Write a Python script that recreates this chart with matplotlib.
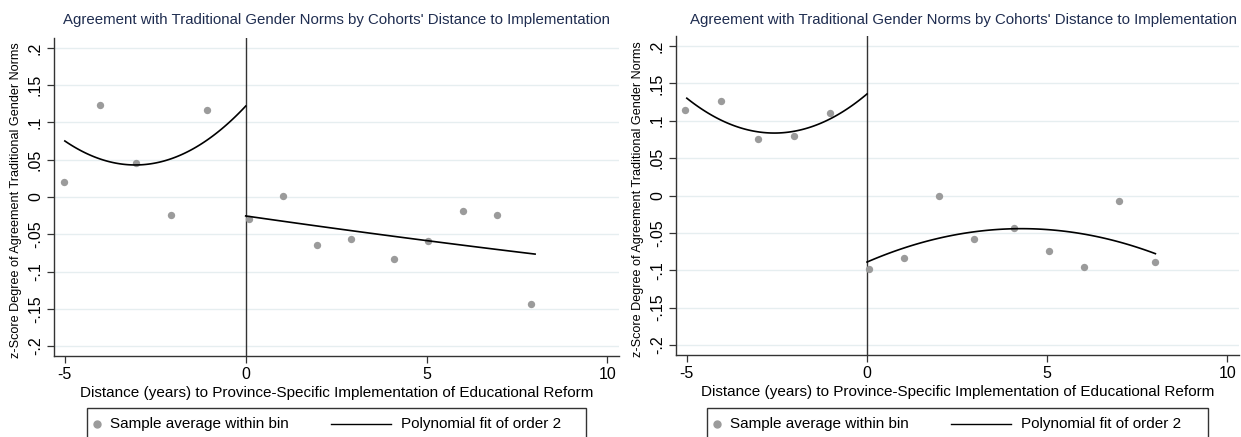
import numpy as np
import matplotlib
matplotlib.use('Agg')
import matplotlib.pyplot as plt
from matplotlib.lines import Line2D
from matplotlib.patches import Rectangle

plt.rcParams['font.family'] = ['Liberation Sans', 'DejaVu Sans']

# bin averages
pre_x_a = [-5.02, -4.03, -3.03, -2.06, -1.07]
pre_y_a = [0.020, 0.123, 0.045, -0.024, 0.117]
post_x_a = [0.1, 1.03, 1.98, 2.92, 4.1, 5.04, 6.0, 6.95, 7.9]
post_y_a = [-0.029, 0.001, -0.064, -0.057, -0.083, -0.059, -0.019, -0.024, -0.1435]

pre_x_b = [-5.04, -4.04, -3.02, -2.02, -1.02]
pre_y_b = [0.114, 0.126, 0.075, 0.079, 0.110]
post_x_b = [0.06, 1.03, 2.0, 2.98, 4.08, 5.06, 6.03, 7.0, 7.99]
post_y_b = [-0.099, -0.083, -0.001, -0.058, -0.044, -0.074, -0.096, -0.007, -0.089]

# points
fit_pre_x = [-5, -4, -3, -2, -1, 0]
fit_pre_a = [0.075, 0.051, 0.043, 0.052, 0.079, 0.122]
fit_pre_b = [0.130, 0.100, 0.085, 0.086, 0.103, 0.136]
fit_post_x = [0, 2, 4, 6, 8]
fit_post_a = [-0.025, -0.040, -0.052, -0.064, -0.077]
fit_post_b = [-0.089, -0.057, -0.045, -0.051, -0.078]

yticks = [0.2, 0.15, 0.1, 0.05, 0, -0.05, -0.1, -0.15, -0.2]
ytick_labels = ['.2', '.15', '.1', '.05', '0', '-.05', '-.1', '-.15', '-.2']
xticks = [-5, 0, 5, 10]

title = "Agreement with Traditional Gender Norms by Cohorts' Distance to Implementation"
xlab = 'Distance (years) to Province-Specific Implementation of Educational Reform'
ylab = 'z-Score Degree of Agreement Traditional Gender Norms'

W, H = 1241, 437
fig = plt.figure(figsize=(W / 100, H / 100), dpi=100)


def smooth_fit(xs, ys):
    # quadratic through the points
    c = np.polyfit(xs, ys, 2)
    xx = np.linspace(xs[0], xs[-1], 100)
    return xx, np.polyval(c, xx)


def panel(rect, px, py, qx, qy, fpa, fpo, title_x, leg_x0, leg_x1):
    ax = fig.add_axes(rect)
    ax.set_xlim(-5.30, 10.32)
    ax.set_ylim(-0.2134, 0.2134)
    for s in ['top', 'right']:
        ax.spines[s].set_visible(False)
    for s in ['left', 'bottom']:
        ax.spines[s].set_color('#333333')
        ax.spines[s].set_linewidth(1.0)
    ax.set_yticks(yticks)
    ax.set_yticklabels(ytick_labels, rotation=90, va='center', fontsize=11.5)
    ax.set_xticks(xticks)
    ax.set_xticklabels([str(t) for t in xticks], fontsize=11.5)
    ax.tick_params(length=5, width=0.9, color='#333333', pad=3)
    ax.grid(axis='y', color='#e6eef0', linewidth=1.0)
    ax.set_axisbelow(True)

    ax.axvline(0, color='#333333', linewidth=1.0)
    ax.scatter(px + qx, py + qy, s=28, color='#9b9b9b', zorder=3, linewidths=0)
    xx, yy = smooth_fit(fit_pre_x, fpa)
    ax.plot(xx, yy, color='black', linewidth=1.2, zorder=4)
    xx, yy = smooth_fit(fit_post_x, fpo)
    ax.plot(xx, yy, color='black', linewidth=1.2, zorder=4)

    ax.set_xlabel(xlab, fontsize=11, labelpad=3)
    ax.set_ylabel(ylab, fontsize=9.1, labelpad=4)
    ax.yaxis.label.set_y(0.49)

    fig.text(title_x / W, 1 - 20 / H, title, fontsize=10.8, color='#1f2d50',
             ha='center', va='center')

    # legend box drawn below the plot
    top = 407.5
    fig.patches.append(Rectangle((leg_x0 / W, 1 - 440 / H), (leg_x1 - leg_x0) / W,
                                 (440 - top) / H, transform=fig.transFigure,
                                 fill=False, edgecolor='#333333', linewidth=1.0))
    yc = 1 - 424 / H
    fig.lines.append(Line2D([(leg_x0 + 10) / W], [yc], marker='o', markersize=5,
                            color='#9b9b9b', linestyle='none', transform=fig.transFigure))
    fig.text((leg_x0 + 23) / W, yc, 'Sample average within bin', fontsize=11,
             va='center', ha='left')
    fig.lines.append(Line2D([(leg_x0 + 244) / W, (leg_x0 + 304) / W], [yc, yc],
                            color='black', linewidth=1.0, transform=fig.transFigure))
    fig.text((leg_x0 + 314) / W, yc, 'Polynomial fit of order 2', fontsize=11,
             va='center', ha='left')
    return ax


panel([54 / W, 81 / H, 565 / W, 318 / H], pre_x_a, pre_y_a, post_x_a, post_y_a,
      fit_pre_a, fit_post_a, 337, 87, 586)
panel([676 / W, 82 / H, 563 / W, 319 / H], pre_x_b, pre_y_b, post_x_b, post_y_b,
      fit_pre_b, fit_post_b, 964, 707, 1208)

plt.savefig('out.png', dpi=100)
